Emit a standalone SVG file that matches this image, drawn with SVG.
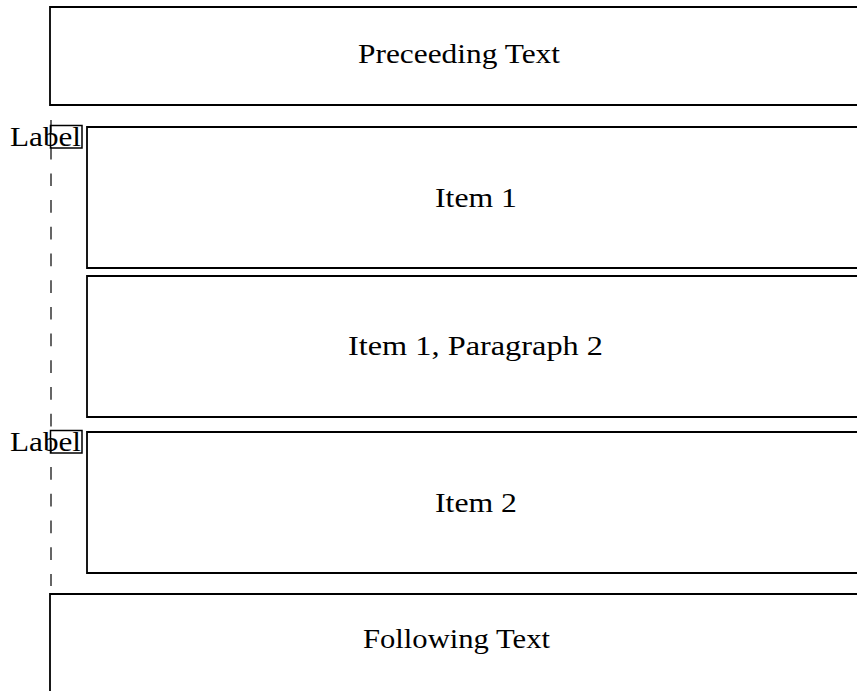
<svg xmlns="http://www.w3.org/2000/svg" width="857" height="691" viewBox="0 0 857 691">
<style>
.box{fill:none;stroke:#000;stroke-width:1.8}
.lbl{fill:none;stroke:#000;stroke-width:1.5}
.t{font-family:"Liberation Serif","Times New Roman",serif;font-size:27px;fill:#000}
.guide{stroke:#000;stroke-width:1.2;stroke-dasharray:12.7 14}
</style>
<rect width="857" height="691" fill="#fff"/>
<g id="connectors">
<line class="guide" x1="51" y1="120" x2="51" y2="586"/>
</g>
<g id="preceding">
<path class="box" d="M870 7H50V105H870"/>
<text class="t" x="358" y="63" textLength="202" lengthAdjust="spacingAndGlyphs">Preceeding Text</text>
</g>
<g id="label1">
<rect class="lbl" x="50.5" y="125.5" width="31.5" height="22.5"/>
<text class="t" x="10" y="146" textLength="71" lengthAdjust="spacingAndGlyphs">Label</text>
</g>
<g id="item1">
<path class="box" d="M870 127H87V268H870"/>
<text class="t" x="435" y="207" textLength="82" lengthAdjust="spacingAndGlyphs">Item 1</text>
</g>
<g id="item1p2">
<path class="box" d="M870 276H87V417H870"/>
<text class="t" x="348" y="355" textLength="255" lengthAdjust="spacingAndGlyphs">Item 1, Paragraph 2</text>
</g>
<g id="label2">
<rect class="lbl" x="50.5" y="430.5" width="31.5" height="22.5"/>
<text class="t" x="10" y="451" textLength="71" lengthAdjust="spacingAndGlyphs">Label</text>
</g>
<g id="item2">
<path class="box" d="M870 432H87V573H870"/>
<text class="t" x="435" y="512" textLength="82" lengthAdjust="spacingAndGlyphs">Item 2</text>
</g>
<g id="following">
<path class="box" d="M870 594H50V700"/>
<text class="t" x="363" y="648" textLength="187" lengthAdjust="spacingAndGlyphs">Following Text</text>
</g>
</svg>
